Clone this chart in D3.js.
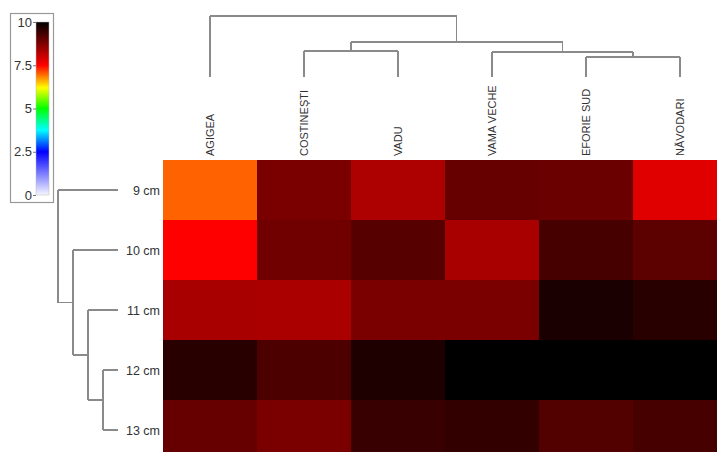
<!DOCTYPE html>
<html lang="en">
  <head>
    <meta charset="utf-8">
    <title>Heatmap with dendrograms</title>
    <script type="text/javascript" src="https://cdn.jsdelivr.net/npm/d3@7"></script>
    <style type="text/css">
      body { margin: 0; background: #fff; }
      svg { display: block; font-family: "Liberation Sans", Arial, sans-serif; }
      .dendro line { stroke: #8a8a8a; stroke-width: 1.2; shape-rendering: crispEdges; }
    </style>
  </head>
  <body>
    <script type="text/javascript">

      //Width and height
      var w = 717;
      var h = 452;

      //Sites (columns) and sizes (rows)
      var sites = ["AGIGEA", "COSTINEȘTI", "VADU", "VAMA VECHE", "EFORIE SUD", "NĂVODARI"];
      var sizes = ["9 cm", "10 cm", "11 cm", "12 cm", "13 cm"];

      //One array per row, in site order
      var row9  = [7.0, 8.8, 8.3, 9.0, 8.95, 7.8];
      var row10 = [7.5, 8.9, 9.15, 8.35, 9.3, 9.1];
      var row11 = [8.35, 8.33, 8.8, 8.8, 9.75, 9.6];
      var row12 = [9.6, 9.25, 9.7, 10, 10, 10];
      var row13 = [9.0, 8.8, 9.45, 9.5, 9.2, 9.3];
      var values = [row9, row10, row11, row12, row13];

      //Dendrogram merges: [a, b, height]; index >= n means an earlier merge
      var siteMerges = [[4, 5, 20], [1, 2, 26], [3, 6, 25], [7, 8, 35], [0, 9, 61]];
      var sizeMerges = [[3, 4, 15], [2, 5, 30], [1, 6, 45], [0, 7, 60]];

      //Colour legend
      var legendTicks = [0, 2.5, 5, 7.5, 10];
      var colorStops = [0, 2.5, 3.75, 5, 6.2, 7.5, 10];
      var colorRange = ["#f6f6ff", "#0000ff", "#00ffff", "#00ff00", "#ffff00", "#ff0000", "#000000"];

      var color = d3.scaleLinear()
              .domain(colorStops)
              .range(colorRange)
              .clamp(true);

      var xScale = d3.scaleBand()
              .domain(d3.range(sites.length))
              .range([163, 163 + 94 * sites.length]);

      var yScale = d3.scaleBand()
              .domain(d3.range(sizes.length))
              .range([160, 160 + 60 * sizes.length]);

      //Create SVG element
      var svg = d3.select("body")
            .append("svg")
            .attr("width", w)
            .attr("height", h);

      //Cells
      var cells = [];
      values.forEach(function(row, r) {
        row.forEach(function(v, c) { cells.push({r: r, c: c, v: v}); });
      });

      svg.append("g")
         .selectAll("rect")
         .data(cells)
         .enter()
         .append("rect")
         .attr("x", function(d) { return xScale(d.c); })
         .attr("y", function(d) { return yScale(d.r); })
         .attr("width", xScale.bandwidth() + 0.5)
         .attr("height", yScale.bandwidth() + 0.5)
         .attr("fill", function(d) { return color(d.v); });

      //Build dendrogram segments from linkage
      function dendroSegments(merges, n, leafPos, hPos) {
        var pos = d3.range(n).map(function(i) { return leafPos(i); });
        var ht = d3.range(n).map(function() { return 0; });
        var segs = [];
        merges.forEach(function(m) {
          var a = m[0], b = m[1], hh = m[2];
          // legs from each child up to merge height, then the bar
          segs.push({p1: pos[a], h1: ht[a], p2: pos[a], h2: hh});
          segs.push({p1: pos[b], h1: ht[b], p2: pos[b], h2: hh});
          segs.push({p1: pos[a], h1: hh, p2: pos[b], h2: hh});
          pos.push((pos[a] + pos[b]) / 2);
          ht.push(hh);
        });
        return segs.map(function(s) {
          return {x1: s.p1, y1: hPos(s.h1), x2: s.p2, y2: hPos(s.h2)};
        });
      }

      //Column dendrogram (top)
      var colH = d3.scaleLinear().domain([0, 61]).range([77, 16]);
      var colSegs = dendroSegments(siteMerges, sites.length,
        function(i) { return xScale(i) + xScale.bandwidth() / 2; }, colH);

      svg.append("g")
         .attr("class", "dendro")
         .selectAll("line")
         .data(colSegs)
         .enter()
         .append("line")
         .attr("x1", function(d) { return d.x1; })
         .attr("y1", function(d) { return d.y1; })
         .attr("x2", function(d) { return d.x2; })
         .attr("y2", function(d) { return d.y2; });

      //Row dendrogram (left): position is y, height is x
      var rowH = d3.scaleLinear().domain([0, 60]).range([118, 58]);
      var rowSegs = dendroSegments(sizeMerges, sizes.length,
        function(i) { return yScale(i) + yScale.bandwidth() / 2; }, rowH);

      svg.append("g")
         .attr("class", "dendro")
         .selectAll("line")
         .data(rowSegs)
         .enter()
         .append("line")
         .attr("x1", function(d) { return d.y1; })
         .attr("y1", function(d) { return d.x1; })
         .attr("x2", function(d) { return d.y2; })
         .attr("y2", function(d) { return d.x2; });

      //Column labels
      svg.append("g")
         .selectAll("text")
         .data(sites)
         .enter()
         .append("text")
         .attr("transform", function(d, i) {
            return "translate(" + (xScale(i) + xScale.bandwidth() / 2 + 4) + ",156) rotate(-90)";
         })
         .attr("text-anchor", "start")
         .attr("font-size", "11px")
         .attr("fill", "#333")
         .text(function(d) { return d; });

      //Row labels
      svg.append("g")
         .selectAll("text")
         .data(sizes)
         .enter()
         .append("text")
         .attr("x", 160)
         .attr("y", function(d, i) { return yScale(i) + yScale.bandwidth() / 2 + 4.5; })
         .attr("text-anchor", "end")
         .attr("font-size", "12.5px")
         .attr("fill", "#333")
         .text(function(d) { return d; });

      //Legend
      var legend = svg.append("g");
      legend.append("rect")
            .attr("x", 10.5).attr("y", 13.5)
            .attr("width", 43).attr("height", 189)
            .attr("fill", "#fff")
            .attr("stroke", "#999")
            .attr("stroke-width", 1.2);

      var lScale = d3.scaleLinear().domain([0, 10]).range([195, 22]);

      var grad = svg.append("defs").append("linearGradient")
            .attr("id", "legend-grad")
            .attr("x1", 0).attr("y1", 1).attr("x2", 0).attr("y2", 0);
      grad.selectAll("stop")
          .data(colorStops)
          .enter()
          .append("stop")
          .attr("offset", function(d) { return d / 10; })
          .attr("stop-color", function(d) { return color(d); });

      legend.append("rect")
            .attr("x", 36).attr("y", lScale(10))
            .attr("width", 13).attr("height", lScale(0) - lScale(10))
            .attr("fill", "url(#legend-grad)")
            .attr("stroke", "#bbb")
            .attr("stroke-width", 0.5);

      var lAxis = legend.append("g")
            .attr("transform", "translate(36,0)")
            .call(d3.axisLeft(lScale).tickValues(legendTicks).tickSize(3).tickPadding(1)
                  .tickFormat(function(d) { return d; }));
      lAxis.select(".domain").remove();
      lAxis.selectAll("line").attr("stroke", "#777");
      lAxis.selectAll("text")
           .attr("font-size", "13px")
           .attr("font-family", "\"Liberation Sans\", Arial, sans-serif")
           .attr("fill", "#333");

    </script>
  </body>
</html>
